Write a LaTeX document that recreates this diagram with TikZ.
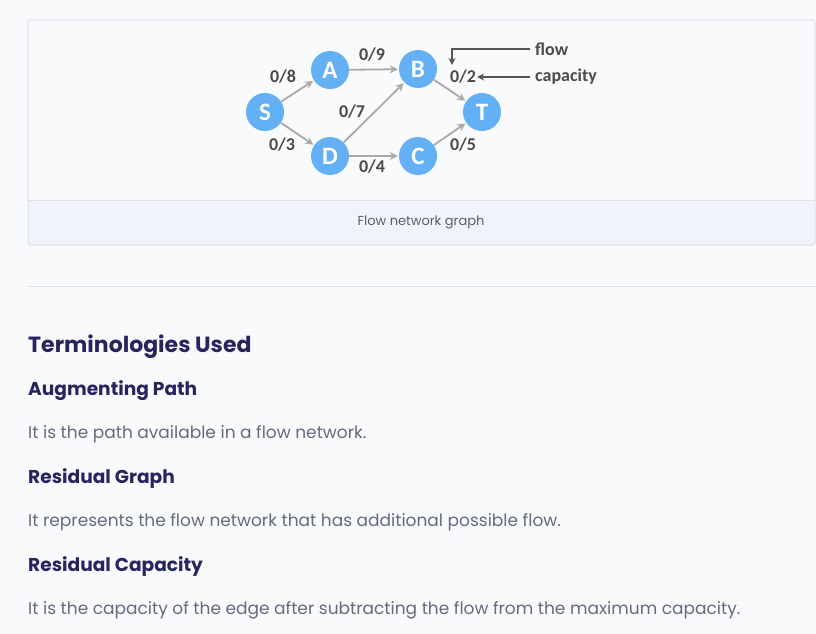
\documentclass[tikz,border=0pt]{standalone}
\usepackage{fontspec}
\setmainfont{Poppins}
\newfontfamily\latofont{Carlito}
\usetikzlibrary{arrows.meta}
\definecolor{pagebg}{HTML}{F9FAFC}
\definecolor{cardline}{HTML}{DDE2EA}
\definecolor{capfill}{HTML}{EFF4FB}
\definecolor{nodeblue}{HTML}{64B0F4}
\definecolor{edgegray}{HTML}{AAAAAA}
\definecolor{labelgray}{HTML}{4A4A4A}
\definecolor{notegray}{HTML}{555555}
\definecolor{headnavy}{HTML}{25265E}
\definecolor{bodygray}{HTML}{676A7E}
\definecolor{capgray}{HTML}{5A5E70}
\tikzset{
  vertex/.style={circle, fill=nodeblue, minimum size=38pt, inner sep=0pt, text=white, font=\latofont\bfseries\fontsize{25}{25}\selectfont},
  flowedge/.style={draw=edgegray, line width=1.8pt, -{Stealth[length=8pt,width=8pt]}, shorten >=1pt},
  elabel/.style={text=labelgray, font=\latofont\bfseries\fontsize{18}{18}\selectfont, inner sep=0pt},
  notetext/.style={text=labelgray, font=\latofont\bfseries\fontsize{18}{18}\selectfont, inner sep=0pt, anchor=west},
  notearrow/.style={draw=notegray, line width=1.6pt, -{Stealth[length=7pt,width=7pt]}},
  heading/.style={anchor=west, inner sep=0pt, text=headnavy, font=\fontsize{22}{22}\selectfont\bfseries},
  subheading/.style={anchor=west, inner sep=0pt, text=headnavy, font=\fontsize{18.6}{18.6}\selectfont\bfseries},
  bodytext/.style={anchor=west, inner sep=0pt, text=bodygray, font=\fontsize{17}{17}\selectfont},
}
\begin{document}
\begin{tikzpicture}[x=1pt,y=-1pt]
\fill[pagebg] (0,0) rectangle (816,634);
\useasboundingbox (0,0) rectangle (816,634);
% card
\fill[capfill, rounded corners=3pt] (28,200) rectangle (815,245);
\draw[cardline, line width=1pt, rounded corners=3pt] (28,20) rectangle (815,245);
\draw[cardline, line width=1pt] (28,200) -- (815,200);
\node[text=capgray, font=\fontsize{13}{13}\selectfont, inner sep=0pt] (cap) at (421,222) {Flow network graph};
% separator
\draw[cardline, line width=1pt] (28,286) -- (816,286);
% graph
\node[vertex] (S) at (265,112) {S};
\node[vertex] (A) at (330,70) {A};
\node[vertex] (B) at (418,69) {B};
\node[vertex] (T) at (482,112) {T};
\node[vertex] (D) at (330,156) {D};
\node[vertex] (C) at (418,156) {C};
\draw[flowedge] (S) -- (A);
\draw[flowedge] (S) -- (D);
\draw[flowedge] (A) -- (B);
\draw[flowedge] (D) -- (B);
\draw[flowedge] (D) -- (C);
\draw[flowedge] (B) -- (T);
\draw[flowedge] (C) -- (T);
\node[elabel] (l8) at (283,77) {0/8};
\node[elabel] (l9) at (372,55) {0/9};
\node[elabel] (l7) at (352,112) {0/7};
\node[elabel] (l3) at (282,145) {0/3};
\node[elabel] (l4) at (372,167) {0/4};
\node[elabel] (l5) at (463,145) {0/5};
\node[elabel] (l2) at (463,77) {0/2};
\node[notetext] (flow) at (535,49) {flow};
\node[notetext] (capa) at (535,77) {capacity};
\coordinate (fstart) at (530,49);
\coordinate (fcorner) at (452,49);
\coordinate (fend) at (452,65);
\draw[notearrow] (fstart) -- (fcorner) -- (fend);
\coordinate (cstart) at (530,77);
\draw[notearrow] (cstart) -- ([xshift=1pt]l2.east);
% text
\node[heading] (h1) at (28,347) {Terminologies Used};
\node[subheading] (h2) at (28,391) {Augmenting Path};
\node[bodytext] (b2) at (28,434) {It is the path available in a flow network.};
\node[subheading] (h3) at (28,479) {Residual Graph};
\node[bodytext] (b3) at (28,522) {It represents the flow network that has additional possible flow.};
\node[subheading] (h4) at (28,567) {Residual Capacity};
\node[bodytext] (b4) at (28,610) {It is the capacity of the edge after subtracting the flow from the maximum capacity.};
\end{tikzpicture}
\end{document}
